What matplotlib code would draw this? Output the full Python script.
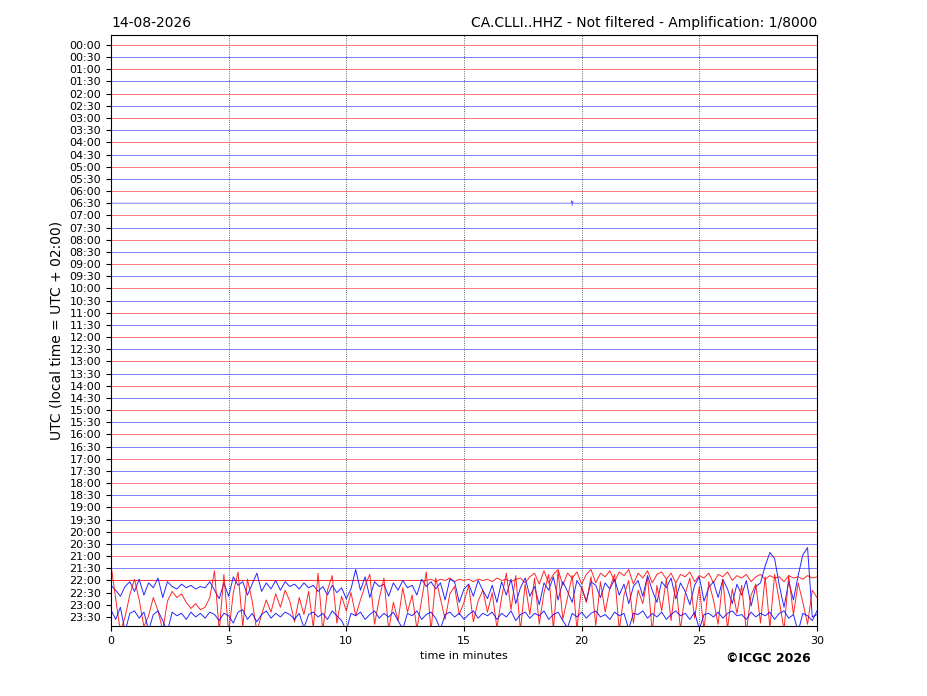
import numpy as np
import matplotlib
matplotlib.use("Agg")
import matplotlib.pyplot as plt

# --- data ----------------------------------------------------------------
date_label = "14-08-2026"
title_right = "CA.CLLI..HHZ - Not filtered - Amplification: 1/8000"

hour_labels = [
    "00:00", "00:30", "01:00", "01:30", "02:00", "02:30", "03:00", "03:30",
    "04:00", "04:30", "05:00", "05:30", "06:00", "06:30", "07:00", "07:30",
    "08:00", "08:30", "09:00", "09:30", "10:00", "10:30", "11:00", "11:30",
    "12:00", "12:30", "13:00", "13:30", "14:00", "14:30", "15:00", "15:30",
    "16:00", "16:30", "17:00", "17:30", "18:00", "18:30", "19:00", "19:30",
    "20:00", "20:30", "21:00", "21:30", "22:00", "22:30", "23:00", "23:30",
]

# quiet lines (amplitude in units of line spacing, up = positive)
quiet_t = [0.0, 30.0]
quiet_v = [0.0, 0.0]

# small blip on the 06:30 line
blip_t = [0.0, 19.56, 19.58, 19.60, 19.62, 19.64, 30.0]
blip_v = [0.0, 0.0, 0.2, -0.2, 0.15, 0.0, 0.0]

# busy lines at the end of the day, sampled every 0.2 min (0 .. 30)
line_2200 = [0.0] * 67 + [
    0.0, 0.1, -0.1, 0.1, 0.0, 0.2, -0.1, 0.1, 0.0, 0.1,
    -0.1, 0.1, 0.0, 0.1, -0.1, 0.2, 0.0, 0.1, -0.1, 0.1,
    0.2, -0.2, 0.3, 0.6, -0.3, 0.8, -0.2, 0.5, 0.9, -0.4,
    0.6, 0.2, 0.7, -0.3, 0.5, 0.9, -0.2, 0.6, 0.3, 0.8,
    -0.1, 0.7, 0.4, 0.9, -0.3, 0.6, 0.2, 0.8, -0.2, 0.5,
    0.7, 0.1, 0.6, -0.2, 0.5, 0.3, 0.7, -0.1, 0.4, 0.2,
    0.6, -0.2, 0.5, 0.3, 0.7, 0.0, 0.4, 0.2, 0.5, -0.1,
    0.3, 0.5, 0.1, 0.4, 0.2, 0.3, -0.1, 0.4, 0.2, 0.3,
    0.1, 0.4, 0.2, 0.3,
]

line_2230 = [
    0.6, 0.2, -0.3, 0.5, 0.9, 0.1, 1.1, -0.2, 0.8, 0.4,
    1.2, -0.4, 0.9, 0.5, 0.3, 0.7, 0.4, 0.6, 0.3, 0.5,
    0.4, 0.9, 0.2, -0.5, 0.8, -0.3, 1.3, 0.6, 0.9, -0.2,
    0.7, 1.6, 0.1, 0.8, 0.3, 1.0, 0.2, 0.9, 0.5, 0.7,
    0.3, 0.8, 0.4, 0.6, 0.1, 0.5, -0.2, 0.6, 0.0, 0.4,
    -0.5, 0.3, 1.9, 0.2, 1.3, -0.4, 0.9, 0.5, 0.7, -0.3,
    0.8, 0.2, 1.0, 0.4, 0.6, -0.2, 1.1, 0.5, 0.9, 0.3,
    0.8, -0.6, 1.1, 0.9, -0.8, 0.3, 0.7, -0.3, 1.0, 0.2,
    -0.5, 0.6, -0.8, 0.9, -0.2, 1.1, -0.9, 0.4, 1.2, -0.3,
    0.5, -1.0, 0.8, 0.2, 1.3, -0.6, 0.9, 0.1, -0.8, 1.0,
    0.4, -0.7, 0.9, 0.6, -0.4, 0.8, 0.3, 1.1, -0.2, 0.7,
    -0.9, 0.5, 1.0, -0.3, 1.4, 0.2, -0.8, 0.9, 0.4, 1.2,
    -0.5, 0.8, 0.1, -1.0, 0.6, 1.3, -0.7, 0.4, 0.9, -0.4,
    1.1, 0.3, -0.9, 0.7, -0.2, 1.0, -1.1, 0.5, 0.8, 2.2,
    3.3, 2.8, 0.6, -1.2, 0.9, -0.6, 1.4, 3.1, 3.7, -2.0,
    -1.8,
]

line_2300 = [
    3.3, 0.5, -2.2, -1.0, 0.8, 2.1, 0.4, -1.8, -0.9, 0.6,
    -0.5, -2.1, 0.3, 1.1, 0.6, 0.9, 0.2, -0.3, 0.1, -0.4,
    -0.2, 0.6, 2.8, -2.2, 2.5, -2.3, 1.0, 2.7, -1.8, 2.1,
    0.3, -2.2, -0.8, 0.4, -0.6, 0.9, -0.2, 1.2, 0.3, -1.4,
    0.6, -0.8, 1.1, -1.9, 2.6, -2.2, 1.2, 2.4, -1.5, 0.7,
    -0.5, 1.0, -0.9, 0.4, 1.6, 2.5, -1.6, 0.5, 2.2, -2.1,
    0.2, -1.3, 1.4, -0.6, 0.8, -2.0, 0.4, 2.7, -2.2, 2.2,
    0.5, -1.2, 0.9, 1.5, -0.8, 0.2, 1.6, -1.4, 0.3, 1.2,
    -0.6, 1.0, -1.9, 0.6, 2.6, -0.4, 2.4, -2.1, 1.7, -0.8,
    2.2, -1.6, 1.0, 2.5, -2.0, 2.8, -1.2, 0.6, 2.4, -2.0,
    1.5, 0.2, 2.3, -1.7, 1.9, -0.6, 1.4, 2.5, -2.1, 0.8,
    2.0, -1.5, 1.2, 0.1, 2.3, -2.2, 1.6, -0.5, 2.1, -1.3,
    1.8, -2.0, 0.9, 2.2, -1.1, 1.5, -2.1, 1.9, 0.4, -1.6,
    2.1, -2.0, 1.3, -0.7, 1.6, -2.2, 0.8, 1.7, -1.5, 2.3,
    -1.9, 2.5, 0.3, -2.1, 2.4, -0.8, 1.8, 0.2, -1.6, 1.2,
    0.6,
]

line_2330 = [
    0.6, -0.2, 0.8, -1.2, 0.3, 0.5, -0.1, 0.4, -1.1, 0.2,
    0.5, -0.3, -1.2, 0.4, 0.1, 0.3, -0.2, 0.4, 0.0, 0.3,
    -0.1, 0.4, 0.2, -0.3, 0.3, 0.1, -0.5, 0.4, 0.6, -0.2,
    0.3, -0.4, 0.2, 0.5, -0.1, 0.3, 0.0, 0.4, 0.2, -0.2,
    0.3, -0.9, 0.2, 0.4, 0.0, 0.3, -0.2, 0.5, 0.1, -0.3,
    -1.1, 0.3, 0.1, 0.4, -0.2, 0.2, 0.5, -0.1, 0.3, 0.0,
    0.4, -0.3, -1.0, 0.3, 0.1, 0.5, -0.2, 0.2, 0.4, -0.1,
    -1.0, 0.2, 0.4, 0.0, 0.3, -0.2, 0.2, 0.5, -0.1, 0.3,
    0.1, 0.4, -0.2, 0.3, 0.0, 0.5, -0.3, 0.2, 0.4, -0.1,
    0.3, 0.1, 0.5, -0.2, 0.2, 0.4, -0.3, -0.9, 0.3, 0.0,
    0.4, -0.1, 0.3, 0.5, 0.0, 0.2, -0.2, 0.4, 0.1, 0.3,
    -1.0, 0.3, 0.2, 0.5, -0.1, 0.3, 0.0, 0.4, -0.2, 0.2,
    0.5, 0.1, 0.3, -0.2, 0.4, -1.0, 0.2, 0.3, 0.0, 0.4,
    -0.1, 0.3, 0.5, 0.1, 0.2, -0.2, 0.4, 0.0, 0.3, 0.1,
    0.4, -0.2, 0.3, 0.5, -0.1, 0.2, -1.2, 0.3, 0.1, -0.3,
    0.5,
]
busy_step = 0.2
busy_lines = {"22:00": line_2200, "22:30": line_2230,
              "23:00": line_2300, "23:30": line_2330}

# --- figure ---------------------------------------------------------------
fig = plt.figure(figsize=(9.27, 6.96), dpi=100)
ax = fig.add_axes([0.1197, 0.1006, 0.7616, 0.8491])

colors = ["#ff0000", "#0000ff"]
for i, lab in enumerate(hour_labels):
    c = colors[i % 2]
    if lab in busy_lines:
        v = np.array(busy_lines[lab])
        t = np.arange(len(v)) * busy_step
        ax.plot(t, i - v, color=c, lw=0.7, alpha=0.85)
        continue
    if lab == "06:30":
        t, v = np.array(blip_t), np.array(blip_v)
    else:
        t, v = np.array(quiet_t), np.array(quiet_v)
    ax.plot(t, i - v, color=c, lw=0.6, alpha=0.6)

ax.set_xlim(0, 30)
ax.set_ylim(47.74, -0.82)
ax.set_yticks(range(len(hour_labels)))
ax.set_yticklabels(hour_labels, fontsize=8)
ax.set_xticks([0, 5, 10, 15, 20, 25, 30])
ax.tick_params(axis="x", labelsize=8)
ax.grid(axis="x", linestyle=":", color="k", lw=0.6, alpha=0.8)

ax.set_xlabel("time in minutes", fontsize=8)
ax.set_ylabel("UTC (local time = UTC + 02:00)", fontsize=10)
ax.set_title(date_label, loc="left", fontsize=10)
ax.set_title(title_right, loc="right", fontsize=10)

fig.text(0.875, 0.049, "\u00a9ICGC 2026", ha="right", fontsize=9,
         fontweight="bold")

fig.savefig("out.png", dpi=100)
